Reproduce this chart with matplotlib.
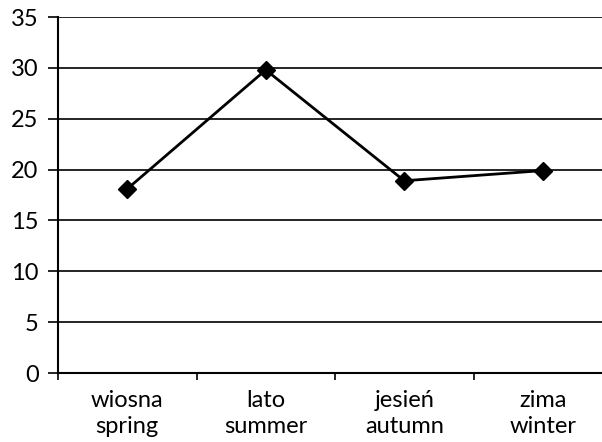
import numpy as np
import matplotlib
matplotlib.use('Agg')
import matplotlib.pyplot as plt

plt.rcParams['font.family'] = ['Lato', 'DejaVu Sans']

# seasons (Polish / English) and values
seasons_pl = ['wiosna', 'lato', 'jesień', 'zima']
seasons_en = ['spring', 'summer', 'autumn', 'winter']
values = [18.1, 29.8, 18.9, 19.9]

fig = plt.figure(figsize=(6.02, 4.42), dpi=100)
ax = fig.add_axes([58/602, 69/442, 554/602, 356/442])

x = np.arange(len(values))
ax.plot(x, values, color='black', linewidth=2, marker='D', markersize=9, zorder=3)

ax.set_xlim(-0.5, len(values) - 0.5)
ax.set_ylim(0, 35)
ax.set_yticks(np.arange(0, 36, 5))
ax.yaxis.grid(True, color='black', linewidth=1.2)
ax.set_axisbelow(True)

ax.set_xticks(x)
ax.set_xticklabels([pl + '\n' + en for pl, en in zip(seasons_pl, seasons_en)],
                   linespacing=1.3)
ax.set_xticks(np.arange(-0.5, len(values)), minor=True)
ax.tick_params(axis='x', which='major', length=0, pad=12, labelsize=17)
ax.tick_params(axis='x', which='minor', length=5, width=1.2)
ax.tick_params(axis='y', length=7, width=1.2, labelsize=17, pad=7)

for s in ['top', 'right']:
    ax.spines[s].set_visible(False)
for s in ['left', 'bottom']:
    ax.spines[s].set_linewidth(1.5)

fig.savefig('out.png', dpi=100)
